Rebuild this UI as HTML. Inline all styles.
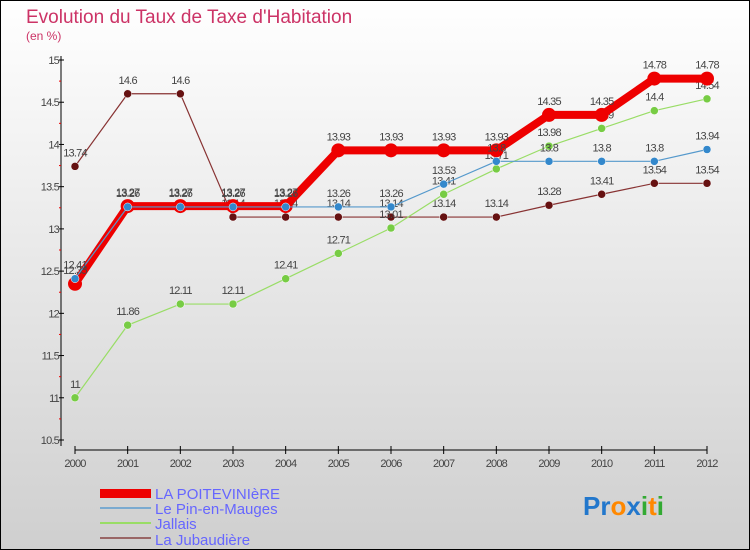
<!DOCTYPE html>
<html><head><meta charset="utf-8"><style>
body{margin:0}
#c{width:750px;height:550px;position:relative;overflow:hidden;font-family:"Liberation Sans",sans-serif}
svg text{font-family:"Liberation Sans",sans-serif}
</style></head><body>
<div id="c">
<svg id="s" width="750" height="550" xmlns="http://www.w3.org/2000/svg">
<defs><linearGradient id="bg" x1="0" y1="0" x2="0" y2="1"><stop offset="0" stop-color="#ffffff"/><stop offset="1" stop-color="#cfcfcf"/></linearGradient></defs>
<rect x="0.5" y="0.5" width="749" height="549" fill="url(#bg)" stroke="#000"/>
<text x="26" y="23" font-size="19" fill="#cc3366">Evolution du Taux de Taxe d'Habitation</text>
<text x="26" y="40" font-size="12" fill="#cc3366">(en %)</text>
<g id="axes"></g><g id="series"></g>
<g>
<rect x="100" y="489" width="51" height="9" fill="#ee0000"/>
<text x="155" y="499" font-size="15" fill="#6666ff">LA POITEVINIèRE</text>
<line x1="100" y1="508" x2="151" y2="508" stroke="#7aaad0" stroke-width="2"/>
<text x="155" y="514" font-size="15" fill="#6666ff">Le Pin-en-Mauges</text>
<line x1="100" y1="523" x2="151" y2="523" stroke="#99dd66" stroke-width="2"/>
<text x="155" y="529" font-size="15" fill="#6666ff">Jallais</text>
<line x1="100" y1="538" x2="151" y2="538" stroke="#996666" stroke-width="2"/>
<text x="155" y="545" font-size="15" fill="#6666ff">La Jubaudière</text>
</g>
<text x="583" y="515" font-size="26" font-weight="bold"><tspan fill="#2277cc">Pr</tspan><tspan fill="#ff8800">o</tspan><tspan fill="#2277cc">x</tspan><tspan fill="#33aa33">i</tspan><tspan fill="#ff8800">t</tspan><tspan fill="#33aa33">i</tspan></text>
</svg></div>
<script>
const years=[2000,2001,2002,2003,2004,2005,2006,2007,2008,2009,2010,2011,2012];
const yTicks=[10.5,11,11.5,12,12.5,13,13.5,14,14.5,15];
const poiteviniere=[12.35,13.27,13.27,13.27,13.27,13.93,13.93,13.93,13.93,14.35,14.35,14.78,14.78];
const pin=[12.41,13.26,13.26,13.26,13.26,13.26,13.26,13.53,13.8,13.8,13.8,13.8,13.94];
const jallais=[11,11.86,12.11,12.11,12.41,12.71,13.01,13.41,13.71,13.98,14.19,14.4,14.54];
const jubaudiere=[13.74,14.6,14.6,13.14,13.14,13.14,13.14,13.14,13.14,13.28,13.41,13.54,13.54];
const NS="http://www.w3.org/2000/svg";
const xS=i=>75+i*(707-75)/(years.length-1);
const yS=v=>60+(15-v)*(440-60)/4.5;
function mk(tag,at,parent){const e=document.createElementNS(NS,tag);for(const k in at)e.setAttribute(k,at[k]);parent.appendChild(e);return e;}
const ax=document.getElementById('axes');
let e=mk('line',{x1:61,y1:56,x2:61,y2:446,stroke:'#000'},ax);


e=mk('line',{x1:75,y1:450,x2:707,y2:450,stroke:'#000'},ax);


yTicks.forEach((v,i)=>{const y=yS(v);
 mk('line',{x1:59,y1:y,x2:64,y2:y,stroke:'#000'},ax);
 if(i<yTicks.length-1)mk('line',{x1:59,y1:yS(v+0.25),x2:61,y2:yS(v+0.25),stroke:'#e00'},ax);
 const t=mk('text',{x:59,y:y+4,'font-size':11,fill:'#444','text-anchor':'end','letter-spacing':'-0.8'},ax);t.textContent=String(v);
 
 });
years.forEach((yr,i)=>{const x=xS(i);
 mk('line',{x1:x,y1:446,x2:x,y2:454,stroke:'#000'},ax);
 const t=mk('text',{x:x,y:467,'font-size':11,fill:'#444','text-anchor':'middle','letter-spacing':'-0.8'},ax);t.textContent=yr;
 
 });
const sg=document.getElementById('series');
function draw(data,name,color,w,r,dot){
 const g=mk('g',{},sg);
 
 
 const l=mk('polyline',{points:data.map((v,i)=>xS(i)+','+yS(v)).join(' '),fill:'none',stroke:color,'stroke-width':w,'stroke-linejoin':'round'},g);
 
 
 data.forEach((v,i)=>{const c=mk('circle',{cx:xS(i),cy:yS(v),r:r,fill:dot,stroke:w>3?'none':'#fff','stroke-width':0.5},g);
  
  
  const t=mk('text',{x:xS(i),y:yS(v)-10,'font-size':11,fill:'#444','text-anchor':'middle','letter-spacing':'-0.8'},g);t.textContent=String(v);
  
  });
}
draw(jubaudiere,'jubaudiere','#883333',1.2,4,'#661111');
draw(jallais,'jallais','#99dd66',1.2,4,'#77cc44');
draw(poiteviniere,'poiteviniere','#ee0000',8,7,'#ee0000');
draw(pin,'pin','#5599cc',1.2,4,'#3388cc');
</script>
</body></html>
